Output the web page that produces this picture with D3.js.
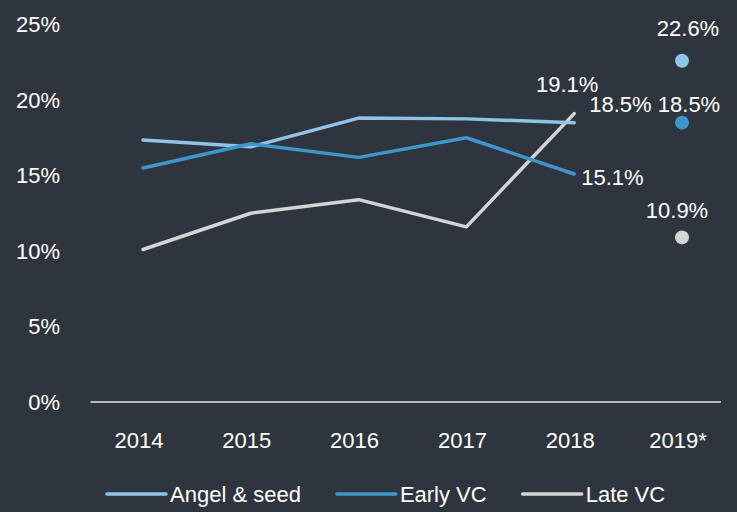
<!DOCTYPE html>
<html>
<head>
<meta charset="utf-8">
<script src="https://cdn.jsdelivr.net/npm/d3@7"></script>
<style>
  html, body { margin: 0; padding: 0; background: #2f353e; }
  svg { display: block; font-family: "Liberation Sans", Arial, sans-serif; }
</style>
</head>
<body>
<div id="chart"></div>
<script>
// categories and values (percent)
var years = ["2014", "2015", "2016", "2017", "2018", "2019*"];
var lineYears = ["2014", "2015", "2016", "2017", "2018"];
var angelSeed = [17.35, 16.9, 18.8, 18.75, 18.5];
var earlyVC   = [15.5, 17.1, 16.2, 17.5, 15.1];
var lateVC    = [10.1, 12.5, 13.4, 11.6, 19.1];
var forecast  = [22.6, 18.5, 10.9];   // 2019* : angel, early, late
var yTicks = [0, 5, 10, 15, 20, 25];
var seriesNames = ["Angel & seed", "Early VC", "Late VC"];
var colors = ["#8fc3e8", "#3d97cc", "#d4d4d4"];

var width = 737, height = 512;

var svg = d3.select("#chart").append("svg")
    .attr("width", width)
    .attr("height", height);

svg.append("rect").attr("width", width).attr("height", height).attr("fill", "#2f353e");

var x = d3.scalePoint().domain(years).range([143, 682]);
var y = d3.scaleLinear().domain([0, 25]).range([402, 24.5]);

// y tick labels
svg.append("g").selectAll("text")
    .data(yTicks).enter().append("text")
    .attr("x", 60)
    .attr("y", function(d) { return y(d); })
    .attr("dy", "0.36em")
    .attr("text-anchor", "end")
    .attr("fill", "#ffffff")
    .style("font-size", "22px")
    .text(function(d) { return d + "%"; });

// baseline
svg.append("line")
    .attr("x1", 90.5).attr("x2", 721)
    .attr("y1", y(0)).attr("y2", y(0))
    .attr("stroke", "#e6e6e6")
    .attr("stroke-width", 1.5);

// x tick labels
svg.append("g").selectAll("text")
    .data(years).enter().append("text")
    .attr("x", function(d) { return x(d) - 4; })
    .attr("y", 448)
    .attr("text-anchor", "middle")
    .attr("fill", "#ffffff")
    .style("font-size", "22px")
    .text(function(d) { return d; });

// lines
var series = [angelSeed, earlyVC, lateVC];
var line = d3.line()
    .x(function(d, i) { return x(lineYears[i]); })
    .y(function(d) { return y(d); });

// draw late first so blue lines sit above where they cross
[2, 0, 1].forEach(function(k) {
  svg.append("path")
      .datum(series[k])
      .attr("d", line)
      .attr("fill", "none")
      .attr("stroke", colors[k])
      .attr("stroke-width", 3.5)
      .attr("stroke-linejoin", "round")
      .attr("stroke-linecap", "round");
});

// 2019* dots
svg.append("g").selectAll("circle")
    .data(forecast).enter().append("circle")
    .attr("cx", x("2019*"))
    .attr("cy", function(d) { return y(d); })
    .attr("r", 7)
    .attr("fill", function(d, i) { return colors[i]; });

// data labels
function label(xv, yv, dx, dy, anchor, txt) {
  svg.append("text")
      .attr("x", xv + dx)
      .attr("y", yv + dy)
      .attr("text-anchor", anchor)
      .attr("fill", "#ffffff")
      .style("font-size", "22px")
      .text(txt);
}
var last = lineYears.length - 1;
label(x("2018"), y(lateVC[last]), -7, -22, "middle", lateVC[last].toFixed(1) + "%");
label(x("2018"), y(angelSeed[last]), 15, -11, "start", angelSeed[last].toFixed(1) + "%");
label(x("2018"), y(earlyVC[last]), 7, 11, "start", earlyVC[last].toFixed(1) + "%");
label(x("2019*"), y(forecast[0]), 6, -25, "middle", forecast[0].toFixed(1) + "%");
label(x("2019*"), y(forecast[1]), 7, -11, "middle", forecast[1].toFixed(1) + "%");
label(x("2019*"), y(forecast[2]), -5, -19, "middle", forecast[2].toFixed(1) + "%");

// legend
var lx = 107, ly = 494;
seriesNames.forEach(function(name, i) {
  svg.append("line")
      .attr("x1", lx).attr("x2", lx + 59)
      .attr("y1", ly).attr("y2", ly)
      .attr("stroke", colors[i])
      .attr("stroke-width", 3.5)
      .attr("stroke-linecap", "round");
  var t = svg.append("text")
      .attr("x", lx + 63)
      .attr("y", ly)
      .attr("dy", "0.36em")
      .attr("fill", "#ffffff")
      .style("font-size", "22px")
      .text(name);
  lx += 63 + t.node().getComputedTextLength() + 36;
});
</script>
</body>
</html>
